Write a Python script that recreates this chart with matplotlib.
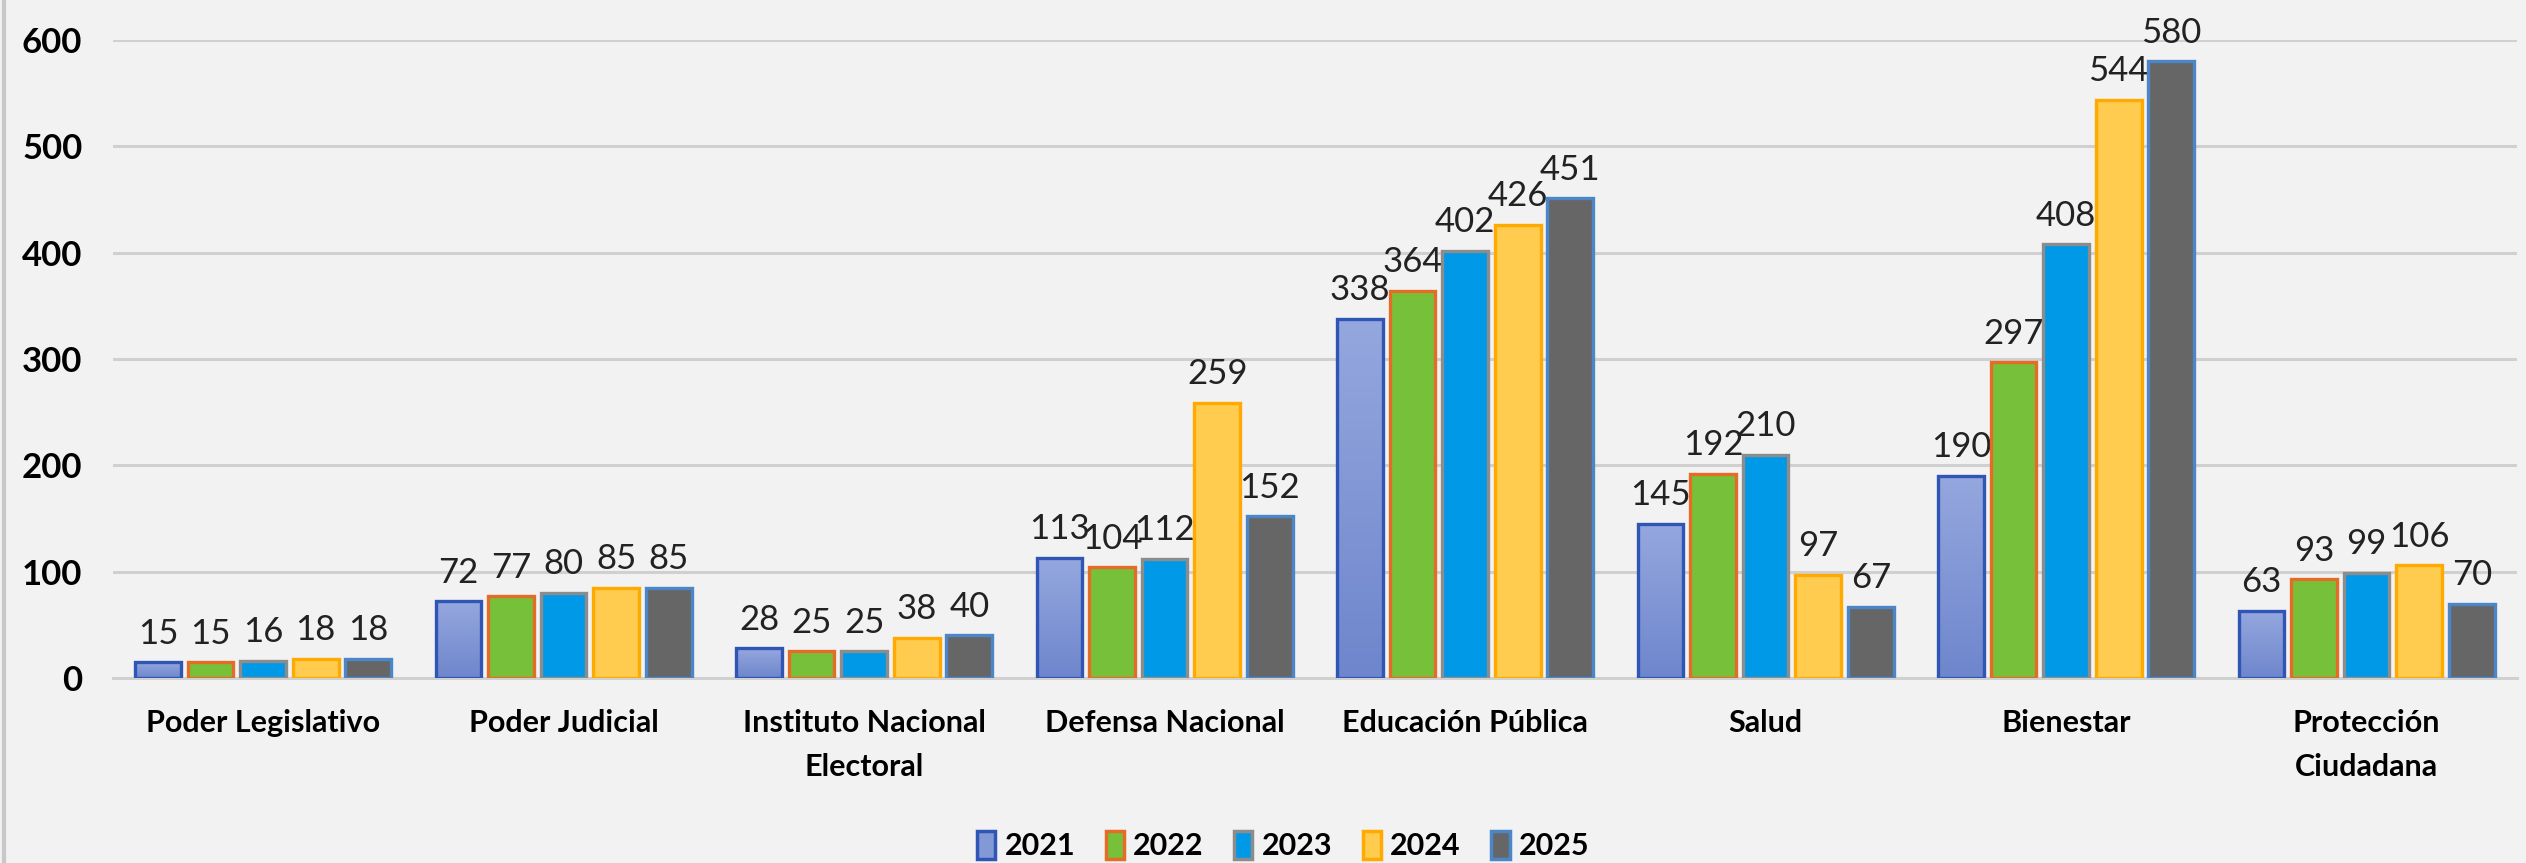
import matplotlib
matplotlib.use("Agg")
import matplotlib.pyplot as plt
import numpy as np
from matplotlib.patches import Patch
from matplotlib.lines import Line2D
from matplotlib.colors import LinearSegmentedColormap

categories = ["Poder Legislativo", "Poder Judicial", "Instituto Nacional\nElectoral",
              "Defensa Nacional", "Educación Pública", "Salud", "Bienestar",
              "Protección\nCiudadana"]
years = ["2021", "2022", "2023", "2024", "2025"]
v2021 = [15, 72, 28, 113, 338, 145, 190, 63]
v2022 = [15, 77, 25, 104, 364, 192, 297, 93]
v2023 = [16, 80, 25, 112, 402, 210, 408, 99]
v2024 = [18, 85, 38, 259, 426, 97, 544, 106]
v2025 = [18, 85, 40, 152, 451, 67, 580, 70]
series = [v2021, v2022, v2023, v2024, v2025]
yticks = [0, 100, 200, 300, 400, 500, 600]

fills = ["#8399D6", "#77C13A", "#0099E8", "#FFCC4F", "#666666"]
edges = ["#2F55B5", "#E46C26", "#8C8C8C", "#FFAA00", "#4A86C8"]

plt.rcParams['font.family'] = ['Lato', 'DejaVu Sans']
fig = plt.figure(figsize=(25.26, 8.63), dpi=100, facecolor="#F2F2F2")
ax = fig.add_axes([0.0447, 0.2144, 0.9517, 0.7393], facecolor="#F2F2F2")

grad = LinearSegmentedColormap.from_list("g2021", ["#6E86CC", "#95A7DE"])

x = np.arange(len(categories))
step = 0.175
width = 0.152
ax.set_xlim(-0.5, len(categories) - 0.5)
ax.set_ylim(0, 600)
for i, (vals, fc, ec) in enumerate(zip(series, fills, edges)):
    pos = x + (i - 2) * step
    bars = ax.bar(pos, vals, width, color=fc, edgecolor=ec, linewidth=2.4, zorder=3)
    for b, v in zip(bars, vals):
        if i == 0:
            b.set_facecolor("none")
            im = ax.imshow(np.linspace(0, 1, 100).reshape(-1, 1), cmap=grad,
                           extent=[b.get_x(), b.get_x() + b.get_width(), 0, v],
                           origin="lower", aspect="auto", zorder=2.5)
            im.set_clip_path(b)
        ax.annotate(str(v), (b.get_x() + b.get_width() / 2, v), xytext=(0, 9),
                    textcoords="offset points", ha="center", va="bottom",
                    fontsize=25, color="#222222", clip_on=False)

ax.set_xlim(-0.5, len(categories) - 0.5)
ax.set_ylim(0, 600)
ax.set_yticks(yticks)
ax.set_yticklabels([str(t) for t in yticks], fontsize=25, fontweight="bold")
ax.yaxis.grid(True, color="#D0D0D0", linewidth=2.2, zorder=0)
ax.set_axisbelow(True)
ax.tick_params(axis="y", length=0, pad=22)
ax.tick_params(axis="x", length=0, pad=22)
ax.set_xticks(x)
ax.set_xticklabels(categories, fontsize=22, fontweight="bold", linespacing=1.7, va="top")
for s in ["top", "right", "left"]:
    ax.spines[s].set_visible(False)
ax.spines["bottom"].set_color("#D0D0D0")
ax.spines["bottom"].set_linewidth(2.2)

handles = [Patch(facecolor=fc, edgecolor=ec, linewidth=2.5) for fc, ec in zip(fills, edges)]
leg = fig.legend(handles, years, loc="center", bbox_to_anchor=(0.508, 0.02), ncol=5,
                 frameon=False, prop={"size": 22, "weight": "bold"},
                 handlelength=0.6, handleheight=1.0, handletextpad=0.3, columnspacing=1.0)

fig.add_artist(Line2D([0.0015, 0.0015], [0, 1], color="#C8C8C8", linewidth=3,
                      transform=fig.transFigure))

fig.savefig("out.png", dpi=100, facecolor=fig.get_facecolor())
